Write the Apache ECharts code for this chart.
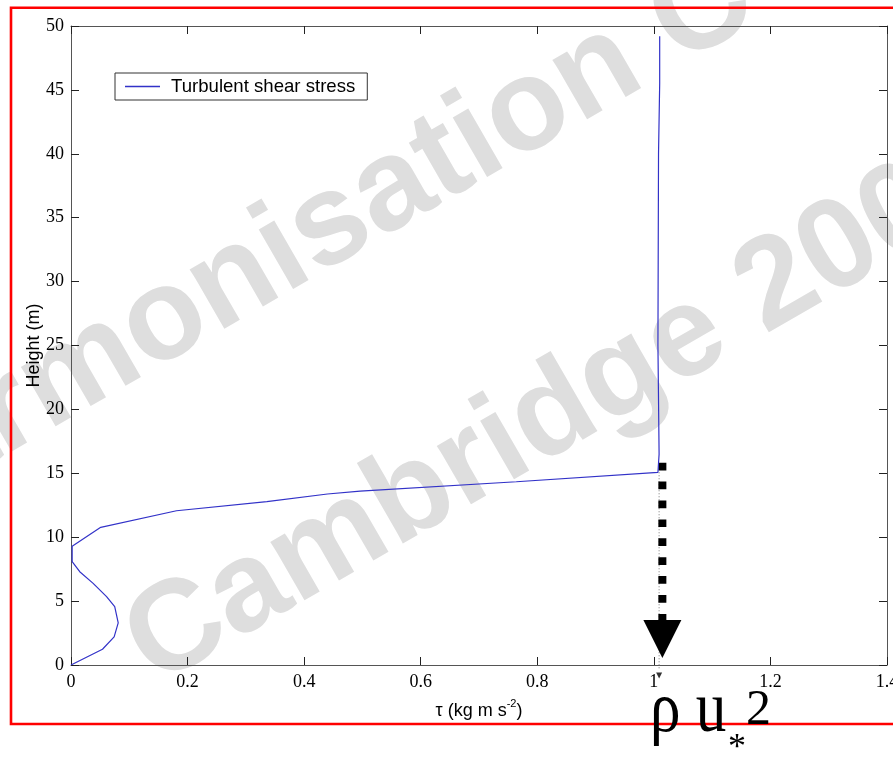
<!DOCTYPE html>
<html>
<head>
<meta charset="utf-8">
<script src="https://cdn.jsdelivr.net/npm/echarts@6/dist/echarts.min.js"></script>
<style>
html,body{margin:0;padding:0;background:#fff;}
#chart{width:893px;height:760px;}
</style>
</head>
<body>
<div id="chart"></div>
<script>
// ---- data ----
const seriesName = 'Turbulent shear stress';
const tauValues = [0, 0.054, 0.074, 0.081, 0.075, 0.061, 0.038, 0.015, 0.002, 0.002, 0.051, 0.181, 0.336, 0.44, 0.496, 0.764, 1.007, 1.009, 1.007, 1.008, 1.010, 1.010];
const heightValues = [0, 1.23, 2.2, 3.3, 4.56, 5.35, 6.39, 7.3, 8.08, 9.3, 10.77, 12.07, 12.78, 13.38, 13.6, 14.34, 15.08, 16.5, 25, 40, 45.5, 49.2];
const xTickLabels = ['0', '0.2', '0.4', '0.6', '0.8', '1', '1.2', '1.4'];
const yTickLabels = ['0', '5', '10', '15', '20', '25', '30', '35', '40', '45', '50'];
// annotation arrow (rho u*^2)
const arrowTau = [1.0146];
const arrowShaftHeights = [15.83, 3.52];
const arrowHeadHeights = [3.52, 0.55];
const guideTau = [1.009];
const guideHeights = [15.08, -0.4];
const guideTipHeight = [-0.82];

const xStep = 0.2, yStep = 5;

const mainData = tauValues.map((t, i) => [t, heightValues[i]]);
const shaftData = arrowShaftHeights.map(h => [arrowTau[0], h]);
const headData = [[arrowTau[0], (arrowHeadHeights[0] + arrowHeadHeights[1]) / 2]];
const guideData = guideHeights.map(h => [guideTau[0], h]);

const chart = echarts.init(document.getElementById('chart'), null, {renderer: 'canvas'});

const tickFont = {fontFamily: '"Liberation Serif", "Times New Roman", serif', fontSize: 18, color: '#000'};
const axisLineStyle = {color: '#555', width: 1};
const tickStyle = {color: '#222', width: 1};

const baseX = {
  type: 'value', min: 0, max: 1.4, interval: xStep,
  splitLine: {show: false},
  axisLine: {show: true, onZero: false, lineStyle: axisLineStyle},
  axisTick: {show: true, inside: true, length: 8, lineStyle: tickStyle}
};
const baseY = {
  type: 'value', min: 0, max: 50, interval: yStep,
  splitLine: {show: false},
  axisLine: {show: true, onZero: false, lineStyle: axisLineStyle},
  axisTick: {show: true, inside: true, length: 8, lineStyle: tickStyle}
};

const headPx = 38;
const serifFont = '"Liberation Serif", "Times New Roman", serif';

chart.setOption({
  animation: false,
  backgroundColor: '#fff',
  grid: {left: 71, right: 6, top: 26, bottom: 95, containLabel: false, outerBoundsMode: 'none'},
  legend: {
    data: [seriesName],
    left: 115, top: 73,
    orient: 'horizontal',
    backgroundColor: '#fff',
    borderColor: '#333', borderWidth: 1,
    padding: [4, 12, 4, 10],
    icon: 'rect',
    itemWidth: 35, itemHeight: 1.3,
    textStyle: {fontFamily: '"Liberation Sans", Arial, sans-serif', fontSize: 18.6, color: '#000', padding: [0, 0, 0, 6]}
  },
  xAxis: [
    Object.assign({}, baseX, {
      position: 'bottom',
      axisLabel: Object.assign({margin: 8, formatter: v => xTickLabels[Math.round(v / xStep)]}, tickFont),
      name: '{t|τ (kg m s}{s|-2}{t|)}',
      nameLocation: 'middle',
      nameGap: 33,
      nameTextStyle: {
        rich: {
          t: {fontFamily: '"Liberation Sans", Arial, sans-serif', fontSize: 18, color: '#000', lineHeight: 22, verticalAlign: 'bottom'},
          s: {fontFamily: '"Liberation Sans", Arial, sans-serif', fontSize: 11, color: '#000', lineHeight: 12, verticalAlign: 'top'}
        }
      }
    }),
    Object.assign({}, baseX, {position: 'top', axisLabel: {show: false}})
  ],
  yAxis: [
    Object.assign({}, baseY, {
      position: 'left',
      axisLabel: Object.assign({margin: 7, formatter: v => yTickLabels[Math.round(v / yStep)]}, tickFont),
      name: 'Height (m)',
      nameLocation: 'middle',
      nameGap: 28,
      nameMoveOverlap: false,
      nameTextStyle: {fontFamily: '"Liberation Sans", Arial, sans-serif', fontSize: 18, color: '#000'}
    }),
    Object.assign({}, baseY, {position: 'right', axisLabel: {show: false}})
  ],
  series: [
    {
      name: 'guide', type: 'line', data: guideData, symbol: 'none', silent: true, clip: false,
      lineStyle: {color: '#777', width: 1, type: [1, 2]}, z: 3
    },
    {
      name: 'shaft', type: 'line', data: shaftData, symbol: 'none', silent: true,
      lineStyle: {color: '#000', width: 8, type: [7.7, 11.2], cap: 'butt'}, z: 4
    },
    {
      name: 'head', type: 'scatter', data: headData, symbol: 'triangle', symbolRotate: 180,
      symbolSize: [headPx, headPx], itemStyle: {color: '#000', opacity: 1}, silent: true, z: 4
    },
    {
      name: 'tip', type: 'scatter', data: [[guideTau[0], guideTipHeight[0]]], symbol: 'triangle', symbolRotate: 180,
      symbolSize: [6, 6], itemStyle: {color: '#333', opacity: 1}, silent: true, clip: false, z: 4
    },
    {
      name: seriesName, type: 'line', data: mainData, symbol: 'none', smooth: false,
      lineStyle: {color: '#3232c8', width: 1.2}, itemStyle: {color: '#3232c8'}, z: 5
    }
  ],
  graphic: {
    elements: [
      {
        type: 'text', x: -158, y: 508, rotation: Math.PI / 6, z: -10, silent: true,
        style: {text: 'Harmonisation C', font: 'bold 130px "Liberation Sans", Arial, sans-serif', fill: '#dedede', align: 'left', verticalAlign: 'middle'}
      },
      {
        type: 'text', x: 137.5, y: 656, rotation: Math.PI / 6, z: -10, silent: true,
        style: {text: 'Cambridge 2007', font: 'bold 128px "Liberation Sans", Arial, sans-serif', fill: '#dedede', align: 'left', verticalAlign: 'middle'}
      },
      {
        type: 'rect', z: 100, silent: true,
        shape: {x: 11, y: 7.7, width: 1000, height: 716.3},
        style: {fill: 'none', stroke: '#ff0000', lineWidth: 2.6}
      },
      {
        type: 'text', x: 650, y: 712, scaleX: 0.85, z: 110, silent: true,
        style: {text: 'ρ u', font: '72px ' + serifFont, fill: '#000', align: 'left', verticalAlign: 'middle'}
      },
      {
        type: 'text', x: 728, y: 749, z: 110, silent: true,
        style: {text: '*', font: '36px ' + serifFont, fill: '#000', align: 'left', verticalAlign: 'middle'}
      },
      {
        type: 'text', x: 746, y: 711, z: 110, silent: true,
        style: {text: '2', font: '50px ' + serifFont, fill: '#000', align: 'left', verticalAlign: 'middle'}
      }
    ]
  }
});
</script>
</body>
</html>
